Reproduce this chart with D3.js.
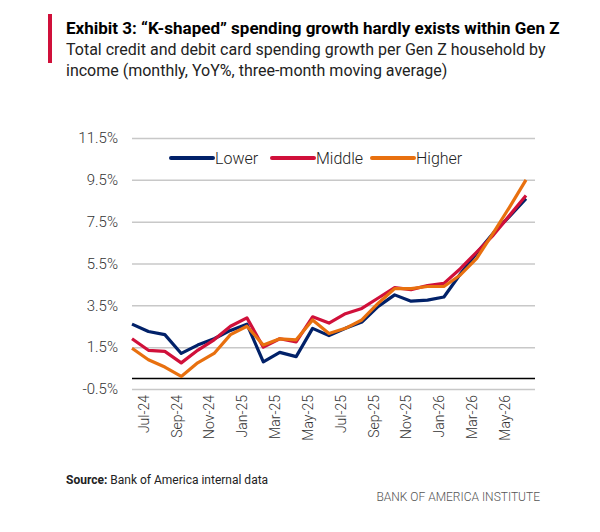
<!DOCTYPE html>
<html><head><meta charset="utf-8">
<script src="https://cdn.jsdelivr.net/npm/d3@7"></script>
<style>body{margin:0;background:#fff}svg{display:block}</style>
</head><body><svg width="600" height="532"></svg>
<script>
const months = ["Jun-24","Jul-24","Aug-24","Sep-24","Oct-24","Nov-24","Dec-24","Jan-25","Feb-25","Mar-25","Apr-25","May-25","Jun-25","Jul-25","Aug-25","Sep-25","Oct-25","Nov-25","Dec-25","Jan-26","Feb-26","Mar-26","Apr-26","May-26","Jun-26"];
const lower  = [2.6,2.25,2.1,1.2,1.6,1.9,2.3,2.6,0.8,1.25,1.05,2.4,2.05,2.4,2.7,3.45,4.0,3.7,3.75,3.9,5.0,6.0,6.95,7.75,8.6];
const middle = [1.9,1.35,1.3,0.75,1.35,1.85,2.5,2.9,1.5,1.9,1.75,2.95,2.65,3.1,3.35,3.85,4.35,4.25,4.45,4.55,5.25,6.05,6.85,7.8,8.75];
const higher = [1.45,0.9,0.55,0.1,0.75,1.2,2.1,2.5,1.6,1.9,1.85,2.8,2.15,2.4,2.8,3.6,4.3,4.3,4.4,4.4,4.95,5.75,6.95,8.2,9.5];
const yTicks = [-0.5,1.5,3.5,5.5,7.5,9.5,11.5];
const seriesNames = ["Lower","Middle","Higher"];
const colors = ["#012169","#D0103A","#E8700F"];
const series = [lower, middle, higher];

const svg = d3.select("svg");
const font = "'Liberation Sans Narrow','Roboto','Open Sans',sans-serif";
svg.append("rect").attr("x",48).attr("y",14).attr("width",4).attr("height",49).attr("fill","#D0103A");
svg.append("text").attr("x",66).attr("y",34).attr("font-family",font).attr("font-weight","bold").attr("font-size",17).attr("fill","#000").text("Exhibit 3: \u201cK-shaped\u201d spending growth hardly exists within Gen Z");
svg.append("text").attr("x",66).attr("y",55).attr("font-family",font).attr("font-size",16).attr("fill","#222").text("Total credit and debit card spending growth per Gen Z household by");
svg.append("text").attr("x",66).attr("y",76).attr("font-family",font).attr("font-size",16).attr("fill","#222").text("income (monthly, YoY%, three-month moving average)");

const x = d3.scalePoint().domain(months).range([132,526]);
const y = d3.scaleLinear().domain([-0.5,11.5]).range([389,138]);

const gy = svg.append("g").attr("transform","translate(132,0)")
  .call(d3.axisLeft(y).tickValues(yTicks).tickSize(-403).tickFormat(d=>d.toFixed(1)+"%"));
gy.select(".domain").remove();
gy.selectAll(".tick line").attr("stroke","#c8c8c8").attr("stroke-width",1.5);
gy.selectAll(".tick text").attr("font-family",font).attr("font-size",15).attr("font-weight",300).attr("fill","#333").attr("x",-14);

svg.append("line").attr("x1",132).attr("x2",535).attr("y1",y(0)).attr("y2",y(0)).attr("stroke","#000").attr("stroke-width",1.5);

const gx = svg.append("g").attr("transform","translate(0,389)")
  .call(d3.axisBottom(x).tickValues(months.filter((m,i)=>i%2==1)).tickSize(0));
gx.select(".domain").remove();
gx.selectAll(".tick text").attr("font-family",font).attr("font-size",14).attr("font-weight",300).attr("fill","#333")
  .attr("transform","rotate(-90)").attr("text-anchor","end").attr("x",-6).attr("y",-5).attr("dy","0.35em");

const line = d3.line().x((d,i)=>x(months[i])).y(d=>y(d));
series.forEach((s,k)=>{
  svg.append("path").attr("d",line(s)).attr("fill","none").attr("stroke",colors[k]).attr("stroke-width",3.2).attr("stroke-linejoin","round");
});

const legX = [171,272,372];
seriesNames.forEach((n,k)=>{
  svg.append("line").attr("x1",legX[k]).attr("x2",legX[k]+42).attr("y1",158).attr("y2",158).attr("stroke",colors[k]).attr("stroke-width",4).attr("stroke-linecap","round");
  svg.append("text").attr("x",legX[k]+44).attr("y",164).attr("font-family",font).attr("font-size",16).attr("font-weight",300).attr("fill","#222").text(n);
});

svg.append("text").attr("x",66).attr("y",484).attr("font-family",font).attr("font-size",12).attr("fill","#222")
  .html("<tspan font-weight='bold'>Source:</tspan> Bank of America internal data");
svg.append("text").attr("x",540).attr("y",501).attr("text-anchor","end").attr("font-family",font).attr("font-size",12).attr("font-weight",300).attr("fill","#555").text("BANK OF AMERICA INSTITUTE");
</script></body></html>
